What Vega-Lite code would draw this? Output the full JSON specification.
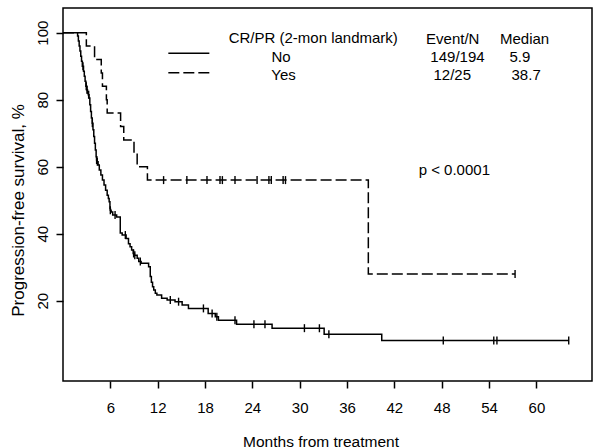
{
  "$schema": "https://vega.github.io/schema/vega-lite/v6.json",
  "width": 529,
  "height": 373,
  "autosize": "none",
  "padding": {"left": 63, "top": 8, "right": 8, "bottom": 67},
  "background": "white",
  "config": {
    "view": {"stroke": "#000", "strokeWidth": 1.5},
    "font": "Liberation Sans",
    "axis": {"grid": false, "domain": false, "tickColor": "#000", "tickWidth": 1.5, "tickSize": 7, "labelColor": "#000", "labelFont": "Liberation Sans", "labelFontSize": 15, "titleFont": "Liberation Sans", "titleColor": "#000", "titleFontWeight": "normal"}
  },
  "datasets": {
    "one": [{}],
    "km": [
      {"group": "No", "t": 0, "s": 100, "c": 0},
      {"group": "No", "t": 1.85, "s": 99, "c": 0},
      {"group": "No", "t": 1.95, "s": 97.5, "c": 0},
      {"group": "No", "t": 2.05, "s": 96, "c": 0},
      {"group": "No", "t": 2.15, "s": 94.5, "c": 0},
      {"group": "No", "t": 2.25, "s": 93, "c": 0},
      {"group": "No", "t": 2.35, "s": 91.5, "c": 0},
      {"group": "No", "t": 2.45, "s": 90, "c": 0},
      {"group": "No", "t": 2.53, "s": 90, "c": 1},
      {"group": "No", "t": 2.6, "s": 88.5, "c": 0},
      {"group": "No", "t": 2.7, "s": 87, "c": 0},
      {"group": "No", "t": 2.8, "s": 85.5, "c": 0},
      {"group": "No", "t": 2.9, "s": 84, "c": 0},
      {"group": "No", "t": 2.95, "s": 84, "c": 1},
      {"group": "No", "t": 3.0, "s": 83, "c": 0},
      {"group": "No", "t": 3.05, "s": 83, "c": 1},
      {"group": "No", "t": 3.1, "s": 82, "c": 0},
      {"group": "No", "t": 3.2, "s": 81.5, "c": 0},
      {"group": "No", "t": 3.25, "s": 81.5, "c": 1},
      {"group": "No", "t": 3.3, "s": 80.5, "c": 0},
      {"group": "No", "t": 3.4, "s": 78.5, "c": 0},
      {"group": "No", "t": 3.5, "s": 76.5, "c": 0},
      {"group": "No", "t": 3.6, "s": 74.5, "c": 0},
      {"group": "No", "t": 3.71, "s": 73, "c": 0},
      {"group": "No", "t": 3.72, "s": 73, "c": 1},
      {"group": "No", "t": 3.8, "s": 71, "c": 0},
      {"group": "No", "t": 3.9, "s": 69, "c": 0},
      {"group": "No", "t": 4.0, "s": 67, "c": 0},
      {"group": "No", "t": 4.1, "s": 65, "c": 0},
      {"group": "No", "t": 4.2, "s": 63, "c": 0},
      {"group": "No", "t": 4.26, "s": 62, "c": 1},
      {"group": "No", "t": 4.32, "s": 61.5, "c": 0},
      {"group": "No", "t": 4.35, "s": 61.5, "c": 1},
      {"group": "No", "t": 4.45, "s": 60.5, "c": 0},
      {"group": "No", "t": 4.6, "s": 59, "c": 0},
      {"group": "No", "t": 4.8, "s": 57.5, "c": 0},
      {"group": "No", "t": 5.0, "s": 56, "c": 0},
      {"group": "No", "t": 5.2, "s": 54.5, "c": 0},
      {"group": "No", "t": 5.4, "s": 53, "c": 0},
      {"group": "No", "t": 5.6, "s": 51.5, "c": 0},
      {"group": "No", "t": 5.75, "s": 50.5, "c": 0},
      {"group": "No", "t": 5.85, "s": 49.5, "c": 0},
      {"group": "No", "t": 5.95, "s": 47.5, "c": 0},
      {"group": "No", "t": 6.0, "s": 47, "c": 1},
      {"group": "No", "t": 6.1, "s": 46.5, "c": 0},
      {"group": "No", "t": 6.3, "s": 45.6, "c": 0},
      {"group": "No", "t": 6.6, "s": 45.6, "c": 1},
      {"group": "No", "t": 6.8, "s": 45, "c": 0},
      {"group": "No", "t": 7.26, "s": 40.2, "c": 0},
      {"group": "No", "t": 7.5, "s": 39.6, "c": 0},
      {"group": "No", "t": 7.9, "s": 39.6, "c": 1},
      {"group": "No", "t": 8.0, "s": 38.6, "c": 0},
      {"group": "No", "t": 8.3, "s": 37, "c": 0},
      {"group": "No", "t": 8.5, "s": 36.1, "c": 0},
      {"group": "No", "t": 8.7, "s": 35.1, "c": 0},
      {"group": "No", "t": 8.9, "s": 34.1, "c": 0},
      {"group": "No", "t": 8.95, "s": 34.1, "c": 1},
      {"group": "No", "t": 9.05, "s": 33.6, "c": 0},
      {"group": "No", "t": 9.1, "s": 33.6, "c": 1},
      {"group": "No", "t": 9.4, "s": 32.7, "c": 0},
      {"group": "No", "t": 9.6, "s": 31.7, "c": 0},
      {"group": "No", "t": 9.8, "s": 31.7, "c": 1},
      {"group": "No", "t": 9.9, "s": 31.2, "c": 0},
      {"group": "No", "t": 10.85, "s": 30.1, "c": 0},
      {"group": "No", "t": 11.06, "s": 27.2, "c": 0},
      {"group": "No", "t": 11.2, "s": 25.5, "c": 0},
      {"group": "No", "t": 11.35, "s": 24.2, "c": 0},
      {"group": "No", "t": 11.5, "s": 23.2, "c": 0},
      {"group": "No", "t": 11.7, "s": 22.2, "c": 0},
      {"group": "No", "t": 11.9, "s": 21.7, "c": 0},
      {"group": "No", "t": 12.5, "s": 20.7, "c": 0},
      {"group": "No", "t": 13.2, "s": 20.2, "c": 0},
      {"group": "No", "t": 13.6, "s": 20.2, "c": 1},
      {"group": "No", "t": 14.2, "s": 19.7, "c": 0},
      {"group": "No", "t": 14.65, "s": 19.7, "c": 1},
      {"group": "No", "t": 15.1, "s": 18.7, "c": 0},
      {"group": "No", "t": 15.9, "s": 17.7, "c": 0},
      {"group": "No", "t": 17.8, "s": 17.7, "c": 1},
      {"group": "No", "t": 18.4, "s": 16.2, "c": 0},
      {"group": "No", "t": 18.9, "s": 16.2, "c": 1},
      {"group": "No", "t": 19.3, "s": 15.2, "c": 0},
      {"group": "No", "t": 19.5, "s": 15.2, "c": 1},
      {"group": "No", "t": 19.7, "s": 14.2, "c": 0},
      {"group": "No", "t": 21.8, "s": 14.2, "c": 1},
      {"group": "No", "t": 22.0, "s": 13.0, "c": 0},
      {"group": "No", "t": 24.2, "s": 13.0, "c": 1},
      {"group": "No", "t": 25.6, "s": 13.0, "c": 1},
      {"group": "No", "t": 26.5, "s": 11.8, "c": 0},
      {"group": "No", "t": 30.6, "s": 11.8, "c": 1},
      {"group": "No", "t": 32.5, "s": 11.8, "c": 1},
      {"group": "No", "t": 33.1, "s": 10.0, "c": 0},
      {"group": "No", "t": 33.7, "s": 10.0, "c": 1},
      {"group": "No", "t": 40.4, "s": 8.1, "c": 0},
      {"group": "No", "t": 48.2, "s": 8.1, "c": 1},
      {"group": "No", "t": 54.6, "s": 8.1, "c": 1},
      {"group": "No", "t": 55.0, "s": 8.1, "c": 1},
      {"group": "No", "t": 64.1, "s": 8.1, "c": 1},
      {"group": "Yes", "t": 0, "s": 100, "c": 0},
      {"group": "Yes", "t": 2.96, "s": 96, "c": 0},
      {"group": "Yes", "t": 4.0, "s": 92, "c": 0},
      {"group": "Yes", "t": 4.85, "s": 88, "c": 0},
      {"group": "Yes", "t": 5.0, "s": 84, "c": 0},
      {"group": "Yes", "t": 5.5, "s": 80, "c": 0},
      {"group": "Yes", "t": 5.6, "s": 76, "c": 0},
      {"group": "Yes", "t": 7.3, "s": 72, "c": 0},
      {"group": "Yes", "t": 7.7, "s": 68, "c": 0},
      {"group": "Yes", "t": 9.0, "s": 64, "c": 0},
      {"group": "Yes", "t": 9.4, "s": 60, "c": 0},
      {"group": "Yes", "t": 10.7, "s": 56, "c": 0},
      {"group": "Yes", "t": 12.75, "s": 56, "c": 1},
      {"group": "Yes", "t": 15.7, "s": 56, "c": 1},
      {"group": "Yes", "t": 18.25, "s": 56, "c": 1},
      {"group": "Yes", "t": 19.9, "s": 56, "c": 1},
      {"group": "Yes", "t": 20.2, "s": 56, "c": 1},
      {"group": "Yes", "t": 21.8, "s": 56, "c": 1},
      {"group": "Yes", "t": 24.6, "s": 56, "c": 1},
      {"group": "Yes", "t": 26.1, "s": 56, "c": 1},
      {"group": "Yes", "t": 26.4, "s": 56, "c": 1},
      {"group": "Yes", "t": 27.9, "s": 56, "c": 1},
      {"group": "Yes", "t": 28.2, "s": 56, "c": 1},
      {"group": "Yes", "t": 38.7, "s": 28, "c": 0},
      {"group": "Yes", "t": 57.3, "s": 28, "c": 1}
    ]
  },
  "layer": [
    {
      "data": {"name": "km"},
      "mark": {"type": "line", "interpolate": "step-after", "color": "#000", "strokeWidth": 1.5},
      "encoding": {
        "x": {"field": "t", "type": "quantitative", "scale": {"domain": [0, 67.05], "nice": false, "zero": false},
          "axis": {"values": [6, 12, 18, 24, 30, 36, 42, 48, 54, 60], "labelPadding": 12.5, "title": "Months from treatment", "titleFontSize": 15.5, "titleX": 257.5, "titleY": 65, "titleBaseline": "alphabetic", "titleAlign": "center"}},
        "y": {"field": "s", "type": "quantitative", "scale": {"domain": [-3.97, 107.37], "nice": false, "zero": false},
          "axis": {"values": [20, 40, 60, 80, 100], "labelAngle": -90, "labelAlign": "center", "labelBaseline": "bottom", "labelPadding": 6, "title": "Progression-free survival, %", "titleFontSize": 17, "titleAngle": -90, "titleX": -39.4, "titleY": 202, "titleBaseline": "alphabetic", "titleAlign": "center"}},
        "strokeDash": {"field": "group", "type": "nominal", "scale": {"domain": ["No", "Yes"], "range": [[1, 0], [11, 4]]}, "legend": null}
      }
    },
    {
      "data": {"name": "km"},
      "transform": [{"filter": "datum.c == 1"}],
      "mark": {"type": "tick", "orient": "vertical", "color": "#000", "size": 8, "thickness": 1.4, "opacity": 1},
      "encoding": {
        "x": {"field": "t", "type": "quantitative"},
        "y": {"field": "s", "type": "quantitative"}
      }
    },
    {
      "data": {"name": "one"},
      "mark": {"type": "rule", "color": "#000", "strokeWidth": 1.5},
      "encoding": {"x": {"datum": 13.35}, "x2": {"datum": 18.55}, "y": {"datum": 93.85}}
    },
    {
      "data": {"name": "one"},
      "mark": {"type": "rule", "color": "#000", "strokeWidth": 1.5, "strokeDash": [11, 4]},
      "encoding": {"x": {"datum": 13.35}, "x2": {"datum": 18.55}, "y": {"datum": 88.06}}
    },
    {"data": {"name": "one"}, "mark": {"type": "text", "text": "CR/PR (2-mon landmark)", "fontSize": 15, "color": "#000", "align": "center", "baseline": "middle"}, "encoding": {"x": {"datum": 31.72}, "y": {"datum": 98.4}}},
    {"data": {"name": "one"}, "mark": {"type": "text", "text": "No", "fontSize": 15, "color": "#000", "align": "center", "baseline": "middle"}, "encoding": {"x": {"datum": 27.64}, "y": {"datum": 92.8}}},
    {"data": {"name": "one"}, "mark": {"type": "text", "text": "Yes", "fontSize": 15, "color": "#000", "align": "center", "baseline": "middle"}, "encoding": {"x": {"datum": 27.96}, "y": {"datum": 87.4}}},
    {"data": {"name": "one"}, "mark": {"type": "text", "text": "Event/N", "fontSize": 15, "color": "#000", "align": "center", "baseline": "middle"}, "encoding": {"x": {"datum": 49.4}, "y": {"datum": 98.1}}},
    {"data": {"name": "one"}, "mark": {"type": "text", "text": "149/194", "fontSize": 15, "color": "#000", "align": "center", "baseline": "middle"}, "encoding": {"x": {"datum": 50.0}, "y": {"datum": 92.8}}},
    {"data": {"name": "one"}, "mark": {"type": "text", "text": "12/25", "fontSize": 15, "color": "#000", "align": "center", "baseline": "middle"}, "encoding": {"x": {"datum": 49.34}, "y": {"datum": 87.4}}},
    {"data": {"name": "one"}, "mark": {"type": "text", "text": "Median", "fontSize": 15, "color": "#000", "align": "center", "baseline": "middle"}, "encoding": {"x": {"datum": 58.5}, "y": {"datum": 98.1}}},
    {"data": {"name": "one"}, "mark": {"type": "text", "text": "5.9", "fontSize": 15, "color": "#000", "align": "center", "baseline": "middle"}, "encoding": {"x": {"datum": 57.9}, "y": {"datum": 92.8}}},
    {"data": {"name": "one"}, "mark": {"type": "text", "text": "38.7", "fontSize": 15, "color": "#000", "align": "center", "baseline": "middle"}, "encoding": {"x": {"datum": 58.7}, "y": {"datum": 87.4}}},
    {"data": {"name": "one"}, "mark": {"type": "text", "text": "p < 0.0001", "fontSize": 15, "color": "#000", "align": "center", "baseline": "middle"}, "encoding": {"x": {"datum": 49.6}, "y": {"datum": 59.0}}}
  ]
}
